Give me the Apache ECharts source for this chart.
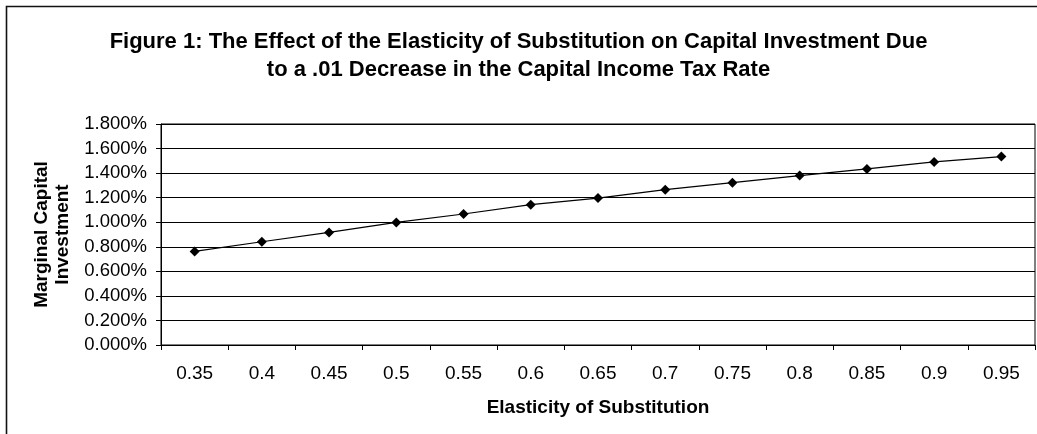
<!DOCTYPE html>
<html>
<head>
<meta charset="utf-8">
<script src="https://cdn.jsdelivr.net/npm/echarts@6/dist/echarts.min.js"></script>
<style>
  html, body { margin: 0; padding: 0; background: #fff; }
  #chart { width: 1037px; height: 434px; }
</style>
</head>
<body>
<div id="chart"></div>
<script>
// Elasticity of substitution (category axis)
const elasticity = ['0.35', '0.4', '0.45', '0.5', '0.55', '0.6', '0.65', '0.7', '0.75', '0.8', '0.85', '0.9', '0.95'];
// Marginal capital investment, in percent
const investment = [0.762, 0.841, 0.917, 0.998, 1.067, 1.143, 1.197, 1.265, 1.322, 1.380, 1.434, 1.491, 1.535];

const titleLines = [
  'Figure 1: The Effect of the Elasticity of Substitution on Capital Investment Due',
  'to a .01 Decrease in the Capital Income Tax Rate'
];
const xAxisName = 'Elasticity of Substitution';
const yAxisName = 'Marginal Capital\nInvestment';

const font = '"Liberation Sans", Arial, sans-serif';
const chart = echarts.init(document.getElementById('chart'), null, { renderer: 'canvas' });

chart.setOption({
  animation: false,
  backgroundColor: '#fff',
  title: {
    text: titleLines.join('\n'),
    left: 'center',
    top: 23,
    textStyle: { fontFamily: font, fontSize: 22, fontWeight: 'bold', color: '#000', lineHeight: 28 }
  },
  // chart-area frame
  graphic: [{
    type: 'rect',
    shape: { x: 6.5, y: 6.5, width: 1200, height: 600 },
    style: { fill: 'none', stroke: '#111', lineWidth: 1.6 },
    silent: true,
    z: 100
  }],
  grid: { left: 161, right: 2, top: 124, bottom: 89, containLabel: false,
          show: true, borderColor: '#000', borderWidth: 1 },
  xAxis: {
    type: 'category',
    data: elasticity,
    boundaryGap: true,
    name: xAxisName,
    nameLocation: 'middle',
    nameGap: 53,
    nameTextStyle: { fontFamily: font, fontSize: 19, fontWeight: 'bold', color: '#000' },
    axisLine: { lineStyle: { color: '#000', width: 1 } },
    axisTick: { show: true, length: 5, lineStyle: { color: '#000' } },
    axisLabel: { fontFamily: font, fontSize: 19, color: '#000', margin: 19, interval: 0 },
    splitLine: { show: false }
  },
  yAxis: {
    type: 'value',
    min: 0,
    max: 1.8,
    interval: 0.2,
    name: yAxisName,
    nameLocation: 'middle',
    nameGap: 88,
    nameRotate: 90,
    nameTextStyle: { fontFamily: font, fontSize: 19, fontWeight: 'bold', color: '#000', lineHeight: 21 },
    axisLine: { show: true, lineStyle: { color: '#000', width: 1 } },
    axisTick: { show: true, length: 5, lineStyle: { color: '#000' } },
    axisLabel: {
      fontFamily: font, fontSize: 18.5, color: '#000', margin: 14,
      formatter: v => v.toFixed(3) + '%'
    },
    splitLine: { show: true, lineStyle: { color: '#000', width: 1 } }
  },
  series: [{
    type: 'line',
    data: investment,
    symbol: 'diamond',
    symbolSize: 10,
    itemStyle: { color: '#000' },
    lineStyle: { color: '#000', width: 1.2 }
  }]
});
</script>
</body>
</html>
